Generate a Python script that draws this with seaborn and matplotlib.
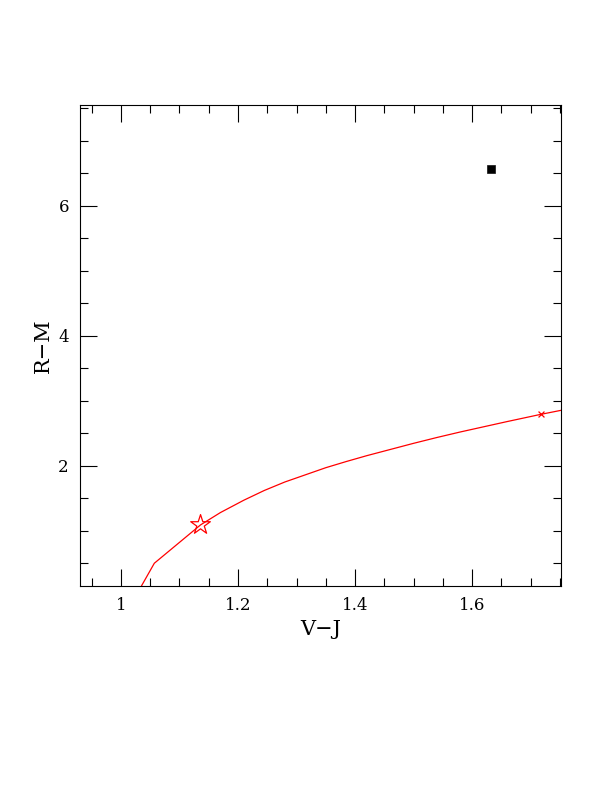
import matplotlib
matplotlib.use('Agg')
import matplotlib.pyplot as plt
import seaborn as sns
import pandas as pd
from matplotlib.ticker import MultipleLocator

# red model track
track_vj = [1.035, 1.057, 1.136, 1.17, 1.21, 1.245, 1.28, 1.315, 1.35, 1.385,
            1.42, 1.46, 1.50, 1.54, 1.58, 1.62, 1.66, 1.717, 1.76]
track_rm = [0.15, 0.50, 1.09, 1.28, 1.47, 1.62, 1.75, 1.86, 1.97, 2.065,
            2.155, 2.25, 2.345, 2.435, 2.52, 2.60, 2.68, 2.79, 2.867]

# markers
star_vj = [1.136]
star_rm = [1.09]
cross_vj = [1.717]
cross_rm = [2.79]
obs_vj = [1.633]
obs_rm = [6.57]

sns.set_style('white')
plt.rcParams['font.family'] = ['DejaVu Serif']
plt.rcParams['text.color'] = 'black'
plt.rcParams['axes.labelcolor'] = 'black'
plt.rcParams['xtick.color'] = 'black'
plt.rcParams['ytick.color'] = 'black'

fig = plt.figure(figsize=(6.12, 7.92), dpi=100)
ax = fig.add_axes([0.1307, 0.2601, 0.786, 0.6073])

track = pd.DataFrame({'vj': track_vj, 'rm': track_rm})
sns.lineplot(data=track, x='vj', y='rm', color='red', lw=0.9, sort=False, ax=ax)
sns.scatterplot(x=star_vj, y=star_rm, marker='*', s=220, facecolor='none',
                edgecolor='red', linewidth=0.9, ax=ax, zorder=5)
sns.scatterplot(x=cross_vj, y=cross_rm, marker='x', s=18, color='red',
                linewidth=0.9, ax=ax, zorder=5)
sns.scatterplot(x=obs_vj, y=obs_rm, marker='s', s=30, color='black',
                edgecolor='black', ax=ax, zorder=5)

ax.set_xlim(0.93, 1.752)
ax.set_ylim(0.15, 7.55)
ax.xaxis.set_major_locator(MultipleLocator(0.2))
ax.xaxis.set_minor_locator(MultipleLocator(0.05))
ax.yaxis.set_major_locator(MultipleLocator(2))
ax.yaxis.set_minor_locator(MultipleLocator(0.5))
ax.set_xticks([1, 1.2, 1.4, 1.6])
ax.set_xticklabels(['1', '1.2', '1.4', '1.6'])
ax.set_yticks([2, 4, 6])
ax.set_yticklabels(['2', '4', '6'])
ax.tick_params(which='both', direction='in', top=True, right=True,
               bottom=True, left=True, color='black', labelcolor='black', width=0.8)
ax.tick_params(which='major', length=12, labelsize=12, pad=8)
ax.tick_params(which='minor', length=6)
for s in ax.spines.values():
    s.set_color('black')
    s.set_linewidth(0.8)

ax.set_xlabel('V\u2212J', fontsize=15, color='black')
ax.set_ylabel('R\u2212M', fontsize=15, color='black')

fig.savefig('out.png', dpi=100)
